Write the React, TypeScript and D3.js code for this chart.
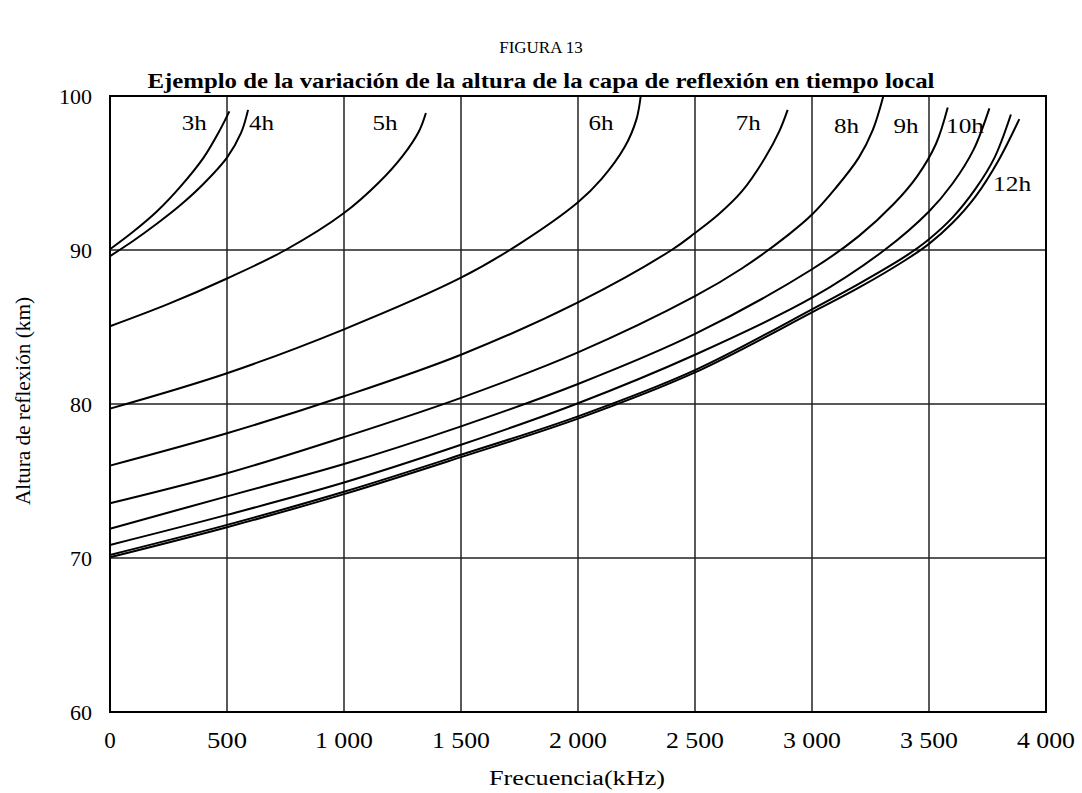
import * as d3 from 'd3'

const W = 1082
const H = 793
const M = { left: 110, right: 1046, top: 96, bottom: 712 }

const xTicks = [0, 500, 1000, 1500, 2000, 2500, 3000, 3500, 4000]
const yTicks = [60, 70, 80, 90, 100]

// [frequency kHz, height km]
const c3h: [number, number][] = [[0, 90.05], [100, 91.2], [200, 92.5], [300, 94.1], [400, 96.0], [470, 97.8], [510, 99.0]]
const c4h: [number, number][] = [[0, 89.6], [100, 90.6], [200, 91.7], [300, 92.9], [400, 94.3], [500, 96.0], [560, 97.6], [590, 99.1]]
const c5h: [number, number][] = [[0, 85.05], [250, 86.5], [500, 88.15], [750, 90.0], [1000, 92.4], [1150, 94.4], [1250, 96.1], [1320, 97.7], [1350, 98.9]]
const c6h: [number, number][] = [[0, 79.7], [500, 82.0], [1000, 84.85], [1500, 88.2], [1750, 90.4], [2000, 93.1], [2100, 94.6], [2200, 96.7], [2250, 98.5], [2268, 100]]
const c7h: [number, number][] = [[0, 76.0], [500, 78.1], [1000, 80.5], [1500, 83.2], [2000, 86.6], [2400, 90.0], [2500, 91.1], [2600, 92.3], [2700, 93.8], [2800, 96.0], [2860, 97.7], [2896, 99.1]]
const c8h: [number, number][] = [[0, 73.55], [500, 75.5], [1000, 77.85], [1500, 80.4], [2000, 83.35], [2500, 87.0], [2700, 88.8], [2900, 91.0], [3000, 92.3], [3100, 94.0], [3200, 96.0], [3260, 97.8], [3305, 100]]
const c9h: [number, number][] = [[0, 71.9], [500, 74.0], [1000, 76.1], [1500, 78.55], [2000, 81.3], [2500, 84.55], [3000, 88.75], [3200, 90.9], [3350, 93.0], [3450, 94.8], [3530, 96.9], [3580, 99.25]]
const c10h: [number, number][] = [[0, 70.85], [500, 72.8], [1000, 74.9], [1500, 77.35], [2000, 80.05], [2500, 83.2], [3000, 86.9], [3310, 90.0], [3500, 92.5], [3600, 94.3], [3690, 96.5], [3758, 99.2]]
const c11h: [number, number][] = [[0, 70.2], [500, 72.15], [1000, 74.3], [1500, 76.7], [2000, 79.2], [2500, 82.2], [3000, 86.15], [3200, 87.8], [3400, 89.6], [3500, 90.7], [3600, 92.1], [3700, 94.0], [3780, 96.0], [3850, 98.8]]
const c12h: [number, number][] = [[0, 70.05], [500, 72.0], [1000, 74.15], [1500, 76.55], [2000, 79.05], [2500, 82.05], [3000, 85.95], [3200, 87.55], [3400, 89.35], [3500, 90.4], [3600, 91.75], [3700, 93.5], [3800, 95.9], [3886, 98.5]]

const curves = [c3h, c4h, c5h, c6h, c7h, c8h, c9h, c10h, c11h, c12h]

// label text and its anchor in data units
const labels: { text: string; f: number; h: number; w: number }[] = [
  { text: '3h', f: 360, h: 97.8, w: 25 },
  { text: '4h', f: 647, h: 97.8, w: 25 },
  { text: '5h', f: 1175, h: 97.8, w: 25 },
  { text: '6h', f: 2098, h: 97.8, w: 25 },
  { text: '7h', f: 2728, h: 97.8, w: 25 },
  { text: '8h', f: 3147, h: 97.6, w: 25 },
  { text: '9h', f: 3402, h: 97.6, w: 25 },
  { text: '10h', f: 3654, h: 97.6, w: 38 },
  { text: '12h', f: 3855, h: 93.8, w: 38 },
]

const fmt = (v: number) => (v >= 1000 ? d3.format(',')(v).replace(',', ' ') : String(v))

export default function App() {
  const x = d3.scaleLinear().domain([0, 4000]).range([M.left, M.right])
  const y = d3.scaleLinear().domain([60, 100]).range([M.bottom, M.top])
  const line = d3
    .line<[number, number]>()
    .x((d) => x(d[0]))
    .y((d) => y(d[1]))
    .curve(d3.curveCatmullRom.alpha(0.5))

  const font = '"Liberation Serif", "Times New Roman", serif'

  return (
    <svg width={W} height={H} style={{ position: 'absolute', left: 0, top: 0, background: '#fff' }} fontFamily={font}>
      <rect width={W} height={H} fill="#fff" />
      <text x={541} y={53} textAnchor="middle" fontSize={17}>FIGURA 13</text>
      <text x={541} y={88} textAnchor="middle" fontSize={22} fontWeight="bold" textLength={787} lengthAdjust="spacingAndGlyphs">
        Ejemplo de la variación de la altura de la capa de reflexión en tiempo local
      </text>

      {xTicks.slice(1, -1).map((t) => (
        <line key={'gx' + t} x1={x(t)} x2={x(t)} y1={M.top} y2={M.bottom} stroke="#000" strokeWidth={1.3} />
      ))}
      {yTicks.slice(1, -1).map((t) => (
        <line key={'gy' + t} x1={M.left} x2={M.right} y1={y(t)} y2={y(t)} stroke="#222" strokeWidth={1.3} />
      ))}
      <rect x={M.left} y={M.top} width={M.right - M.left} height={M.bottom - M.top} fill="none" stroke="#000" strokeWidth={2} />

      {curves.map((c, i) => (
        <path key={i} d={line(c) ?? ''} fill="none" stroke="#000" strokeWidth={2} />
      ))}

      {labels.map((l) => (
        <text key={l.text} x={x(l.f)} y={y(l.h)} textAnchor="middle" fontSize={22} textLength={l.w} lengthAdjust="spacingAndGlyphs">{l.text}</text>
      ))}

      {xTicks.map((t) => {
        const s = fmt(t)
        return (
          <text key={'tx' + t} x={x(t)} y={748} textAnchor="middle" fontSize={23}
            textLength={s.length === 1 ? undefined : s.length === 3 ? 40 : 58} lengthAdjust="spacingAndGlyphs">{s}</text>
        )
      })}
      {yTicks.map((t) => (
        <text key={'ty' + t} x={92} y={y(t) + 8} textAnchor="end" fontSize={22}>{t}</text>
      ))}

      <text x={577} y={785} textAnchor="middle" fontSize={20} textLength={176} lengthAdjust="spacingAndGlyphs">Frecuencia(kHz)</text>
      <text transform={`translate(30,${401}) rotate(-90)`} textAnchor="middle" fontSize={20} textLength={208} lengthAdjust="spacingAndGlyphs">Altura de reflexión (km)</text>
    </svg>
  )
}
